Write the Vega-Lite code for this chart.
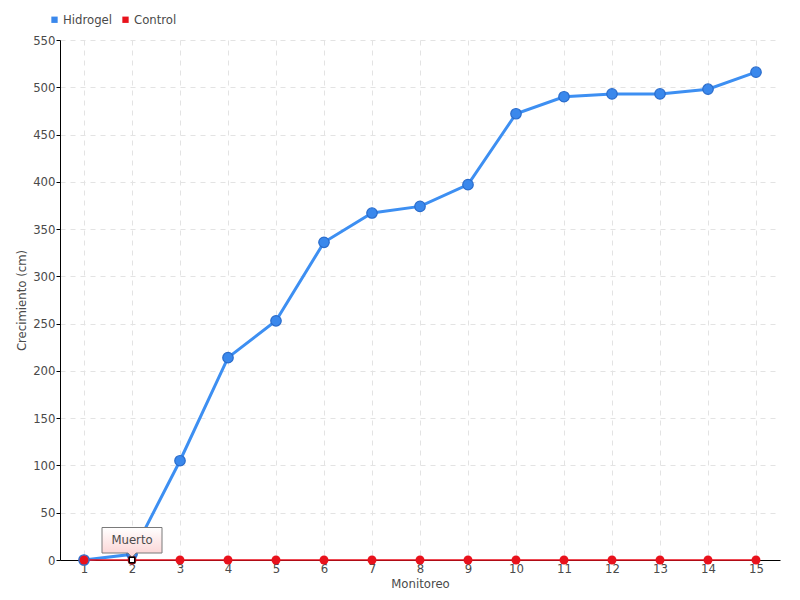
{
  "$schema": "https://vega.github.io/schema/vega-lite/v6.json",
  "width": 720,
  "height": 520,
  "autosize": {"type": "none"},
  "padding": {"left": 60, "top": 40, "right": 20, "bottom": 40},
  "background": "white",
  "config": {
    "view": {"stroke": null},
    "font": "DejaVu Sans Condensed",
    "axis": {
      "labelFont": "DejaVu Sans Condensed",
      "titleFont": "DejaVu Sans Condensed",
      "labelFontSize": 13,
      "titleFontSize": 13,
      "labelColor": "#4a4a4a",
      "titleColor": "#4a4a4a",
      "titleFontWeight": "normal",
      "gridColor": "#e3e3e3",
      "gridDash": [5, 5],
      "domainColor": "#000000",
      "tickColor": "#000000"
    }
  },
  "datasets": {
    "series": [
      {"m": 1, "serie": "Hidrogel", "valor": 0},
      {"m": 2, "serie": "Hidrogel", "valor": 6},
      {"m": 3, "serie": "Hidrogel", "valor": 105},
      {"m": 4, "serie": "Hidrogel", "valor": 214},
      {"m": 5, "serie": "Hidrogel", "valor": 253},
      {"m": 6, "serie": "Hidrogel", "valor": 336},
      {"m": 7, "serie": "Hidrogel", "valor": 367},
      {"m": 8, "serie": "Hidrogel", "valor": 374},
      {"m": 9, "serie": "Hidrogel", "valor": 397},
      {"m": 10, "serie": "Hidrogel", "valor": 472},
      {"m": 11, "serie": "Hidrogel", "valor": 490},
      {"m": 12, "serie": "Hidrogel", "valor": 493},
      {"m": 13, "serie": "Hidrogel", "valor": 493},
      {"m": 14, "serie": "Hidrogel", "valor": 498},
      {"m": 15, "serie": "Hidrogel", "valor": 516},
      {"m": 1, "serie": "Control", "valor": 0},
      {"m": 2, "serie": "Control", "valor": 0},
      {"m": 3, "serie": "Control", "valor": 0},
      {"m": 4, "serie": "Control", "valor": 0},
      {"m": 5, "serie": "Control", "valor": 0},
      {"m": 6, "serie": "Control", "valor": 0},
      {"m": 7, "serie": "Control", "valor": 0},
      {"m": 8, "serie": "Control", "valor": 0},
      {"m": 9, "serie": "Control", "valor": 0},
      {"m": 10, "serie": "Control", "valor": 0},
      {"m": 11, "serie": "Control", "valor": 0},
      {"m": 12, "serie": "Control", "valor": 0},
      {"m": 13, "serie": "Control", "valor": 0},
      {"m": 14, "serie": "Control", "valor": 0},
      {"m": 15, "serie": "Control", "valor": 0}
    ],
    "nota": [
      {"m": 2, "serie": "Control", "valor": 0, "label": "Muerto"}
    ]
  },
  "encoding": {
    "x": {
      "field": "m",
      "type": "ordinal",
      "scale": {"type": "point", "padding": 0.5},
      "axis": {
        "title": "Monitoreo",
        "labelAngle": 0,
        "grid": true,
        "ticks": false,
        "labelPadding": 2,
        "titlePadding": 2
      }
    },
    "y": {
      "field": "valor",
      "type": "quantitative",
      "scale": {"domain": [0, 550], "nice": false},
      "axis": {
        "title": "Crecimiento (cm)",
        "values": [0, 50, 100, 150, 200, 250, 300, 350, 400, 450, 500, 550],
        "grid": true,
        "tickSize": 4,
        "labelPadding": 1,
        "titlePadding": 4
      }
    }
  },
  "layer": [
    {
      "data": {"name": "series"},
      "transform": [{"filter": "datum.serie === 'Hidrogel'"}],
      "mark": {"type": "line", "strokeWidth": 3, "color": "#3d8ff2"},
      "encoding": {}
    },
    {
      "data": {"name": "series"},
      "transform": [{"filter": "datum.serie === 'Control'"}],
      "mark": {"type": "line", "strokeWidth": 1.5, "color": "#ea0f1c"},
      "encoding": {}
    },
    {
      "data": {"name": "series"},
      "transform": [{"filter": "datum.serie === 'Hidrogel'"}],
      "mark": {"type": "point", "filled": true, "size": 110, "stroke": "#2a6ccb", "strokeWidth": 1.2, "fillOpacity": 1, "opacity": 1},
      "encoding": {
        "color": {
          "field": "serie",
          "type": "nominal",
          "scale": {"domain": ["Hidrogel", "Control"], "range": ["#3a88ec", "#e8121c"]},
          "legend": {
            "title": null,
            "orient": "none",
            "legendX": -12,
            "legendY": -27,
            "direction": "horizontal",
            "symbolType": "square",
            "symbolSize": 40,
            "symbolStrokeWidth": 0,
            "labelFont": "DejaVu Sans Condensed",
            "labelFontSize": 13,
            "labelColor": "#4a4a4a",
            "labelOffset": 2,
            "columnPadding": 6
          }
        }
      }
    },
    {
      "data": {"name": "series"},
      "transform": [{"filter": "datum.serie === 'Control'"}],
      "mark": {"type": "point", "filled": true, "size": 80, "fillOpacity": 1, "opacity": 1},
      "encoding": {
        "color": {"field": "serie", "type": "nominal"}
      }
    },
    {
      "data": {"name": "nota"},
      "mark": {
        "type": "point",
        "shape": "M-1.2,-1.3H1.2V-0.28H0.16L0,-0.1L-0.16,-0.28H-1.2Z",
        "size": 2500,
        "filled": true,
        "fill": {
          "gradient": "linear",
          "x1": 0, "y1": 0, "x2": 0, "y2": 1,
          "stops": [
            {"offset": 0, "color": "#ffffff"},
            {"offset": 1, "color": "#fbd0d0"}
          ]
        },
        "stroke": "#7a7a7a",
        "strokeWidth": 1,
        "opacity": 1,
        "fillOpacity": 1
      },
      "encoding": {}
    },
    {
      "data": {"name": "nota"},
      "mark": {"type": "text", "dy": -20, "fontSize": 13, "color": "#4a4a4a", "font": "DejaVu Sans Condensed"},
      "encoding": {"text": {"field": "label"}}
    },
    {
      "data": {"name": "nota"},
      "mark": {"type": "point", "shape": "square", "size": 30, "filled": true, "fill": "#ffffff", "stroke": "#000000", "strokeWidth": 1.5, "opacity": 1},
      "encoding": {}
    }
  ]
}
